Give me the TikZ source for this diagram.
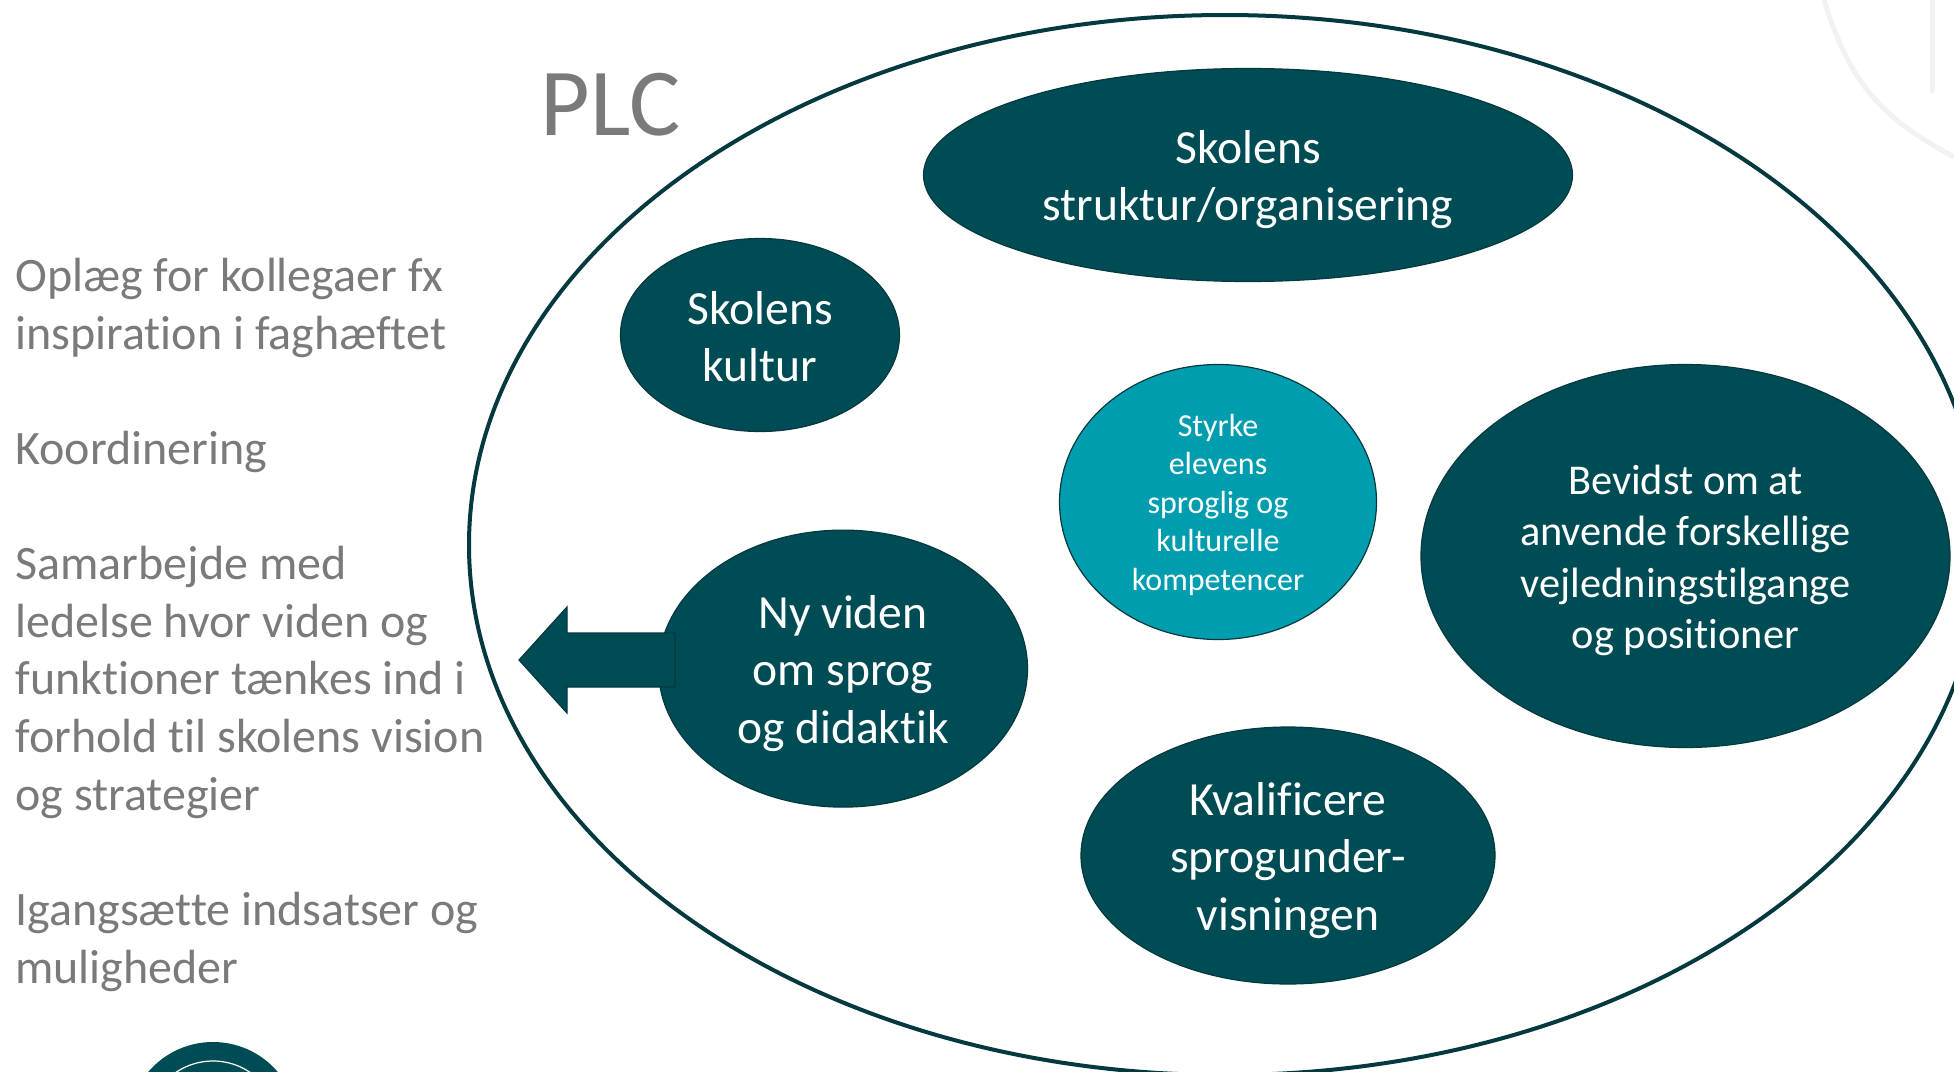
\documentclass[tikz,border=0pt]{standalone}
\usepackage{fontspec}
\setmainfont[Ligatures=CommonOff]{Carlito}
\usetikzlibrary{shapes.geometric}
\definecolor{teal1}{HTML}{004C54}
\definecolor{teal2}{HTML}{009DAE}
\definecolor{edge1}{HTML}{03393F}
\definecolor{graytext}{HTML}{7A7A7A}
\definecolor{faint}{HTML}{F2F2F2}
\newcommand{\firstline}[1]{\rule{0pt}{#1}}
\tikzset{
  x=0.5pt,y=-0.5pt,
  blob/.style={ellipse,draw=edge1,line width=0.6pt,fill=teal1,text=white,inner sep=0pt,align=center,font=\fontsize{23.8}{28.8}\selectfont},
  sidetext/.style={anchor=mid west,inner sep=0pt,align=left,text=graytext,font=\fontsize{24}{28.85}\selectfont},
}
\begin{document}
\begin{tikzpicture}
\useasboundingbox (0,0) rectangle (1954,1071);
\fill[white] (0,0) rectangle (1954,1071);
% faint watermark
\draw[faint,line width=2.5pt] (1824,0) .. controls (1852,92) and (1890,122) .. (1954,157);
\draw[faint,line width=2.5pt,line cap=round] (1932,0) -- (1932,91);
% logo at the bottom
\begin{scope}
\clip (0,0) rectangle (1954,1071);
\fill[teal1] (213,1127) circle[x radius=85,y radius=85];
\draw[white,line width=0.6pt] (213,1127) circle[x radius=66,y radius=66];
% big ellipse
\node[ellipse,draw=edge1,line width=2pt,fill=white,inner sep=0pt,minimum width=1512*0.5pt,minimum height=1060*0.5pt] (plc) at (1225,545) {};
\end{scope}
\node[anchor=center,inner sep=0pt,text=graytext,font=\fontsize{48}{54}\selectfont] (plclabel) at (611,105) {PLC};
% side text
\node[sidetext] (t1) at (15,344.5) {Oplæg for kollegaer fx\\inspiration i faghæftet};
\node[sidetext] (t2) at (15,460) {Koordinering};
\node[sidetext] (t3) at (15,805.5) {Samarbejde med\\ledelse hvor viden og\\funktioner tænkes ind i\\forhold til skolens vision\\og strategier};
\node[sidetext] (t4) at (15,978.5) {Igangsætte indsatser og\\muligheder};
% inner ellipses
\node[blob,minimum width=649*0.5pt,minimum height=213*0.5pt] (struktur) at (1248,175) {\firstline{21.2pt}Skolens\\struktur/organisering};
\node[blob,minimum width=279*0.5pt,minimum height=193*0.5pt] (kultur) at (760,335) {\firstline{18.2pt}Skolens\\kultur};
\node[blob,fill=teal2,minimum width=317*0.5pt,minimum height=275*0.5pt,font=\fontsize{16}{19.25}\selectfont] (styrke) at (1218,502) {\firstline{14pt}Styrke\\elevens\\sproglig og\\kulturelle\\kompetencer};
\node[blob,minimum width=529*0.5pt,minimum height=383*0.5pt,font=\fontsize{21.2}{25.75}\selectfont] (bevidst) at (1685.5,556) {\firstline{19.2pt}Bevidst om at\\anvende forskellige\\vejledningstilgange\\og positioner};
\node[blob,minimum width=369*0.5pt,minimum height=277*0.5pt] (viden) at (843,668.6) {\firstline{21.2pt}Ny viden\\om sprog\\og didaktik};
\node[blob,minimum width=414*0.5pt,minimum height=257*0.5pt] (kval) at (1288,855.5) {\firstline{21.2pt}Kvalificere\\sprogunder-\\visningen};
% arrow
\draw[draw=edge1,line width=0.6pt,fill=teal1,line join=miter] (675,633) -- (567,633) -- (567,607) -- (519,660) -- (567,713) -- (567,687) -- (675,687) -- cycle;
\end{tikzpicture}
\end{document}
